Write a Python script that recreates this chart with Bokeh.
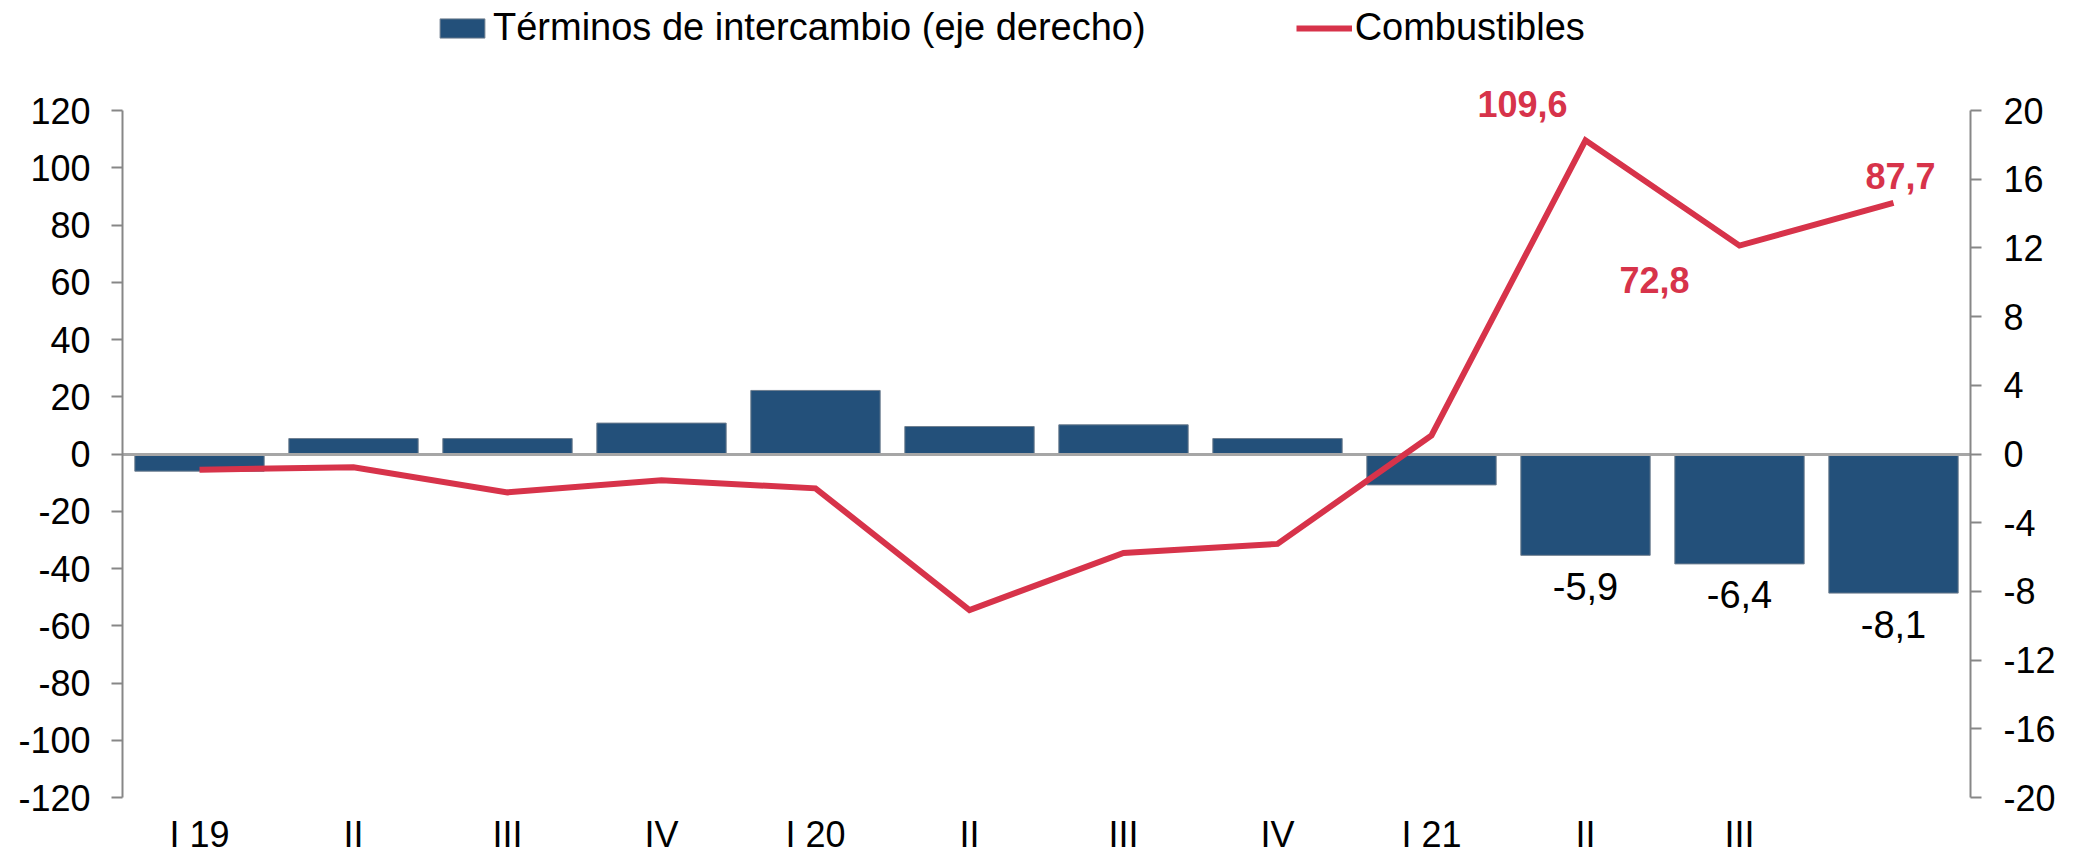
from bokeh.plotting import figure
from bokeh.models import (Range1d, LinearAxis, FixedTicker, Legend, LegendItem,
                          ColumnDataSource, LabelSet)
from bokeh.core.properties import value
from bokeh.embed import file_html
from bokeh.resources import INLINE

# ---- data ----
categories = ["I 19", "II", "III", "IV", "I 20", "II", "III", "IV", "I 21", "II", "III", ""]
terminos = [-1.0, 0.9, 0.9, 1.8, 3.7, 1.6, 1.7, 0.9, -1.8, -5.9, -6.4, -8.1]
combustibles = [-5.5, -4.6, -13.4, -9.2, -12.0, -54.5, -34.6, -31.4, 6.5, 109.6, 72.8, 87.7]
left_ticks = [-120, -100, -80, -60, -40, -20, 0, 20, 40, 60, 80, 100, 120]
right_ticks = [-20, -16, -12, -8, -4, 0, 4, 8, 12, 16, 20]

BLUE = "#23507A"
RED = "#D7334A"
GRAY = "#878787"
FONT = "Liberation Sans"

# ---- layout (pixels) ----
W, H = 2066, 857
FL, FR, FT, FB = 122, 1970, 0, 797      # frame box; axes drawn from -120 to 120 (110..797)
AX_TOP = 110
px_per_left = (FB - AX_TOP) / 240.0
px_per_right = (FB - AX_TOP) / 40.0
left_end = -120 + (FB - FT) / px_per_left
right_end = -20 + (FB - FT) / px_per_right

xs = list(range(len(categories)))

p = figure(width=W, height=H, output_backend="svg", toolbar_location=None,
           x_range=Range1d(-0.5, len(categories) - 0.5), y_range=Range1d(-120, left_end),
           min_border_left=FL, min_border_right=W - FR, min_border_top=FT,
           min_border_bottom=H - FB)
p.outline_line_color = None
p.grid.visible = False
p.background_fill_color = "white"
p.border_fill_color = "white"
p.extra_y_ranges = {"right": Range1d(-20, right_end)}

bar_src = ColumnDataSource(dict(x=xs, top=terminos))
bars = p.vbar(x="x", top="top", bottom=0, width=0.84, source=bar_src, y_range_name="right",
              fill_color=BLUE, line_color="#6F7F90", line_width=1)

p.hspan(y=[0], line_color="#A6A6A6", line_width=3)

line_src = ColumnDataSource(dict(x=xs, y=combustibles))
ln = p.line(x="x", y="y", source=line_src, line_color=RED, line_width=6, line_join="miter")


def fmt(v):
    return f"{v:.1f}".replace(".", ",")


lab_idx = [9, 10, 11]
lx_off = [-63, -85, 7]
ly_off = [36, -34, 27]
lab_src = ColumnDataSource(dict(x=[xs[i] for i in lab_idx], y=[combustibles[i] for i in lab_idx],
                                t=[fmt(combustibles[i]) for i in lab_idx], xo=lx_off, yo=ly_off))
p.add_layout(LabelSet(x="x", y="y", text="t", source=lab_src, x_offset="xo", y_offset="yo",
                      text_font=value(FONT), text_font_style="bold", text_font_size="36px",
                      text_color=RED, text_align="center", text_baseline="middle"))

bar_lab_src = ColumnDataSource(dict(x=[xs[i] for i in lab_idx], y=[terminos[i] for i in lab_idx],
                                    t=[fmt(terminos[i]) for i in lab_idx]))
p.add_layout(LabelSet(x="x", y="y", text="t", source=bar_lab_src, y_range_name="right", y_offset=-31,
                      text_font=value(FONT), text_font_size="38px", text_color="black",
                      text_align="center", text_baseline="middle"))

# axes
yl = p.yaxis[0]
yl.ticker = FixedTicker(ticks=left_ticks)
yl.bounds = (-120, 120)
yr = LinearAxis(y_range_name="right", ticker=FixedTicker(ticks=right_ticks), bounds=(-20, 20))
p.add_layout(yr, "right")
for ax, ticks, std in ((yl, left_ticks, 21), (yr, right_ticks, 22)):
    ax.axis_line_color = GRAY
    ax.axis_line_width = 2
    ax.major_tick_line_color = GRAY
    ax.major_tick_line_width = 2
    ax.major_tick_out = 11
    ax.major_tick_in = 0
    ax.minor_tick_line_color = None
    ax.major_label_standoff = std
    ax.major_label_text_font = FONT
    ax.major_label_text_font_size = "36px"
    ax.major_label_text_color = "black"
    ax.major_label_overrides = {t: str(t) for t in ticks}

xa = p.xaxis[0]
xa.ticker = FixedTicker(ticks=xs)
xa.major_label_overrides = {i: c for i, c in zip(xs, categories)}
xa.axis_line_color = None
xa.major_tick_line_color = None
xa.minor_tick_line_color = None
xa.major_tick_out = 0
xa.major_tick_in = 0
xa.major_label_standoff = 16
xa.major_label_text_font = FONT
xa.major_label_text_font_size = "36px"
xa.major_label_text_color = "black"

legend = Legend(items=[LegendItem(label="Términos de intercambio (eje derecho)", renderers=[bars]),
                       LegendItem(label="Combustibles", renderers=[ln])],
                orientation="horizontal", location=(312, 748),
                label_text_font=FONT, label_text_font_size="38px", label_text_color="black",
                glyph_width=56, glyph_height=24, label_standoff=3, spacing=150,
                padding=0, margin=0, border_line_color=None, background_fill_alpha=0)
p.add_layout(legend, "center")

open("out.html", "w").write(file_html(p, INLINE))
